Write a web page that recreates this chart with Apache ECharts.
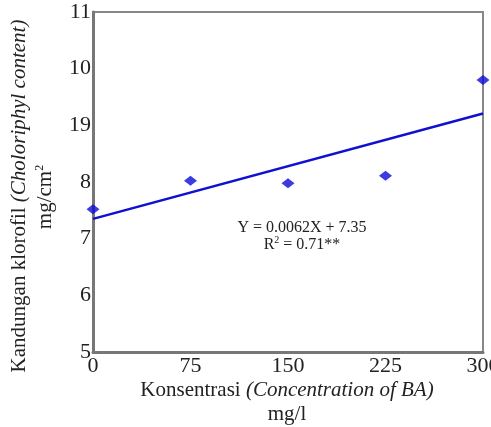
<!DOCTYPE html>
<html>
<head>
<meta charset="utf-8">
<script src="https://cdn.jsdelivr.net/npm/echarts@6/dist/echarts.min.js"></script>
<style>html,body{margin:0;padding:0;background:#fff}#c{width:491px;height:427px}</style>
</head>
<body>
<div id="c"></div>
<script>
var concentrations = [0, 75, 150, 225, 300];
var chlorophyll = [7.52, 8.02, 7.98, 8.11, 9.8];
var trendX = [0, 300];
var trendY = [7.35, 9.21];
var yTickValues = [5, 6, 7, 8, 9, 10, 11];
var yTickLabels = ['5', '6', '7', '8', '19', '10', '11'];
var xTickLabels = ['0', '75', '150', '225', '300'];

var font = '"Liberation Serif", "DejaVu Serif", serif';
var chart = echarts.init(document.getElementById('c'));
chart.setOption({
  animation: false,
  grid: {left: 93, right: 8, top: 12, bottom: 75, show: true, borderColor: '#888', borderWidth: 2, outerBoundsMode: 'none', containLabel: false},
  xAxis: {
    type: 'value', min: 0, max: 300, interval: 75,
    axisLine: {show: true, lineStyle: {color: '#777', width: 3}},
    axisTick: {show: false}, splitLine: {show: false},
    axisLabel: {color: '#222', fontFamily: font, fontSize: 22, margin: 3,
      formatter: function (v) { var i = concentrations.indexOf(v); return i >= 0 ? xTickLabels[i] : ''; }}
  },
  yAxis: {
    type: 'value', min: 5, max: 11, interval: 1,
    axisLine: {show: true, lineStyle: {color: '#777', width: 3}},
    axisTick: {show: false}, splitLine: {show: false},
    axisLabel: {color: '#222', fontFamily: font, fontSize: 22, margin: 2,
      formatter: function (v) { var i = yTickValues.indexOf(v); return i >= 0 ? yTickLabels[i] : ''; }}
  },
  series: [
    {type: 'line', data: trendX.map(function (x, i) { return [x, trendY[i]]; }),
      showSymbol: false, lineStyle: {color: '#1010d0', width: 2.5}, z: 2},
    {type: 'scatter', data: concentrations.map(function (x, i) { return [x, chlorophyll[i]]; }),
      symbol: 'diamond', symbolSize: [13, 10], itemStyle: {color: '#0a0ad8'}, z: 3}
  ],
  graphic: [
    {type: 'text', x: 302, y: 228, style: {text: 'Y = 0.0062X + 7.35', fontFamily: font, fontSize: 16, fill: '#222', align: 'center', verticalAlign: 'middle'}},
    {type: 'text', x: 302, y: 245, style: {text: '{a|R}{s|2}{a| = 0.71**}', fontFamily: font, fill: '#222', align: 'center', verticalAlign: 'middle',
      rich: {a: {fontFamily: font, fontSize: 16, fill: '#222'}, s: {fontFamily: font, fontSize: 10, fill: '#222', verticalAlign: 'top', padding: [0, 0, 9, 0]}}}},
    {type: 'text', x: 287, y: 390, style: {text: '{a|Konsentrasi }{i|(Concentration of BA)}', align: 'center', verticalAlign: 'middle',
      rich: {a: {fontFamily: font, fontSize: 21, fill: '#222'}, i: {fontFamily: font, fontSize: 21, fontStyle: 'italic', fill: '#222'}}}},
    {type: 'text', x: 287, y: 414, style: {text: 'mg/l', fontFamily: font, fontSize: 21, fill: '#222', align: 'center', verticalAlign: 'middle'}},
    {type: 'text', x: 19, y: 196, rotation: Math.PI / 2, style: {text: '{a|Kandungan klorofil }{i|(Choloriphyl content)}', align: 'center', verticalAlign: 'middle',
      rich: {a: {fontFamily: font, fontSize: 21, fill: '#222'}, i: {fontFamily: font, fontSize: 21, fontStyle: 'italic', fill: '#222'}}}},
    {type: 'text', x: 45, y: 197, rotation: Math.PI / 2, style: {text: '{a|mg/cm}{s|2}', align: 'center', verticalAlign: 'middle',
      rich: {a: {fontFamily: font, fontSize: 21, fill: '#222'}, s: {fontFamily: font, fontSize: 12, fill: '#222', verticalAlign: 'top', padding: [0, 0, 10, 0]}}}}
  ]
});
</script>
</body>
</html>
